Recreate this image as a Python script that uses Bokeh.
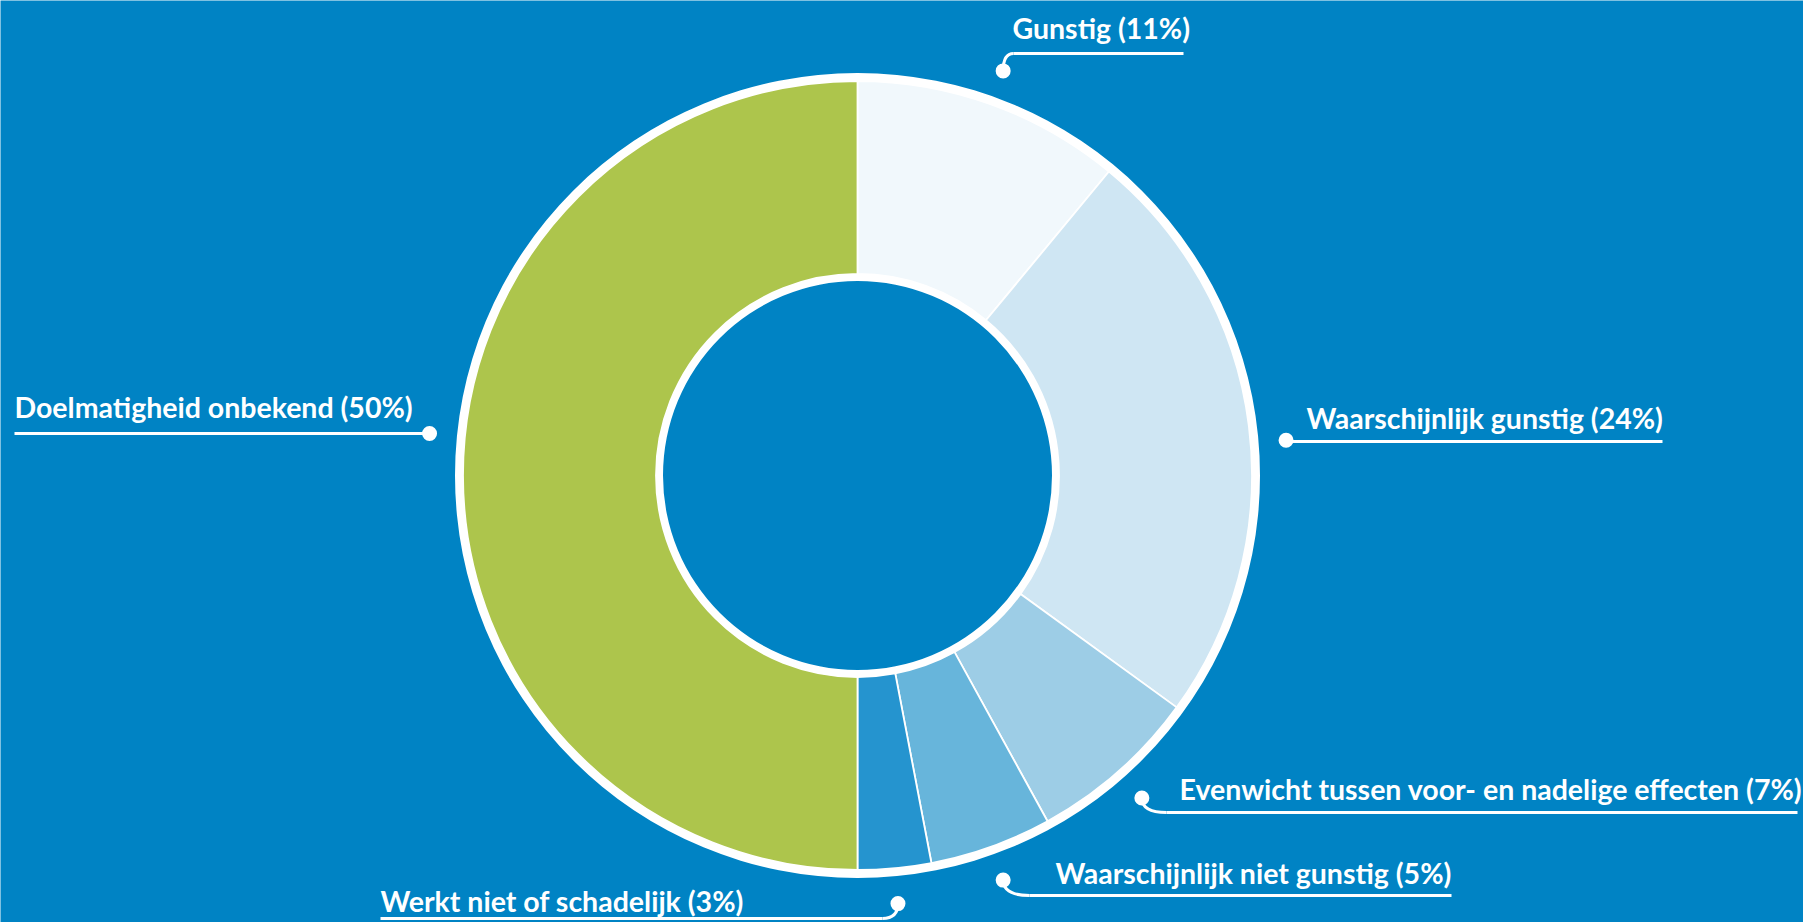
import numpy as np
from bokeh.plotting import figure
from bokeh.models import ColumnDataSource, Range1d
from bokeh.core.properties import value
from bokeh.embed import file_html
from bokeh.resources import INLINE

# ---- data ----
categories = ["Gunstig", "Waarschijnlijk gunstig", "Evenwicht tussen voor-  en nadelige effecten",
              "Waarschijnlijk niet gunstig", "Werkt niet of schadelijk", "Doelmatigheid onbekend"]
percentages = [11, 24, 7, 5, 3, 50]
slice_colors = ["#F1F8FC", "#CFE6F3", "#9DCDE6", "#67B5DB", "#2594CF", "#ADC54C"]

# ---- layout (reference pixel coords, y from top) ----
BG = "#0083C4"
W, H = 1803, 922
cx_ref, cy_ref = 857, 475
r_hole, r_in, r_out, r_ring = 194.5, 201.5, 394.5, 402.5
r_dot = 430
dot_angle_nudge = [0, 2.5, 0, 0, 0, 5.6]          # degrees
line_y_ref = [53, 441, 812, 895, 918, 433]
line_join_x_ref = [1013, None, 1166, 1029, 882, None]
line_far_x_ref = [1183, 1662, 1797, 1451, 380, 14]
text_x_ref = [1012, 1306, 1179, 1055, 380, 14]
text_base_ref = [27, 417, 788, 872, 900, 406]
FONT = "Lato"
FSIZE = "28.5px"


def X(x):
    return x


def Y(y):
    return H - y


p = figure(width=W, height=H, x_range=Range1d(0, W), y_range=Range1d(0, H),
           output_backend="svg", toolbar_location=None, min_border=0)
p.axis.visible = False
p.grid.visible = False
p.outline_line_color = None
p.background_fill_color = BG
p.border_fill_color = BG

cx, cy = X(cx_ref), Y(cy_ref)
frac = np.array(percentages, dtype=float) / sum(percentages)
c1 = np.cumsum(frac)
c0 = c1 - frac
start = np.pi / 2 - c1 * 2 * np.pi
end = np.pi / 2 - c0 * 2 * np.pi

# white ring behind
p.annulus(x=[cx], y=[cy], inner_radius=r_hole, outer_radius=r_ring,
          inner_radius_units="screen", outer_radius_units="screen",
          fill_color="white", line_color=None)

src = ColumnDataSource(dict(x=[cx] * len(frac), y=[cy] * len(frac), start=start, end=end,
                            color=slice_colors))
p.annular_wedge(x="x", y="y", inner_radius=r_in, outer_radius=r_out,
                inner_radius_units="screen", outer_radius_units="screen",
                start_angle="start", end_angle="end", direction="anticlock",
                fill_color="color", line_color="white", line_width=1.8, source=src)

# leader dots
mid = (c0 + c1) / 2
theta = mid * 2 * np.pi + np.deg2rad(dot_angle_nudge)
dx = cx + r_dot * np.sin(theta)
dy = cy + r_dot * np.cos(theta)
p.scatter(dx, dy, size=15, color="white", line_color=None)

# leader lines
for i in range(len(categories)):
    ly = Y(line_y_ref[i])
    if line_join_x_ref[i] is None:
        p.line([dx[i], X(line_far_x_ref[i])], [ly, ly], line_color="white", line_width=3)
    else:
        jx = X(line_join_x_ref[i])
        p.quadratic(x0=[dx[i]], y0=[dy[i]], x1=[jx], y1=[ly], cx=[dx[i]], cy=[ly],
                    line_color="white", line_width=3)
        p.line([jx, X(line_far_x_ref[i])], [ly, ly], line_color="white", line_width=3)

labels = [f"{c} ({v}%)" for c, v in zip(categories, percentages)]
p.text(x=[X(v) for v in text_x_ref], y=[Y(v) for v in text_base_ref], text=labels,
       text_color="white", text_font=value(FONT), text_font_size=FSIZE,
       text_font_style="bold", text_baseline="alphabetic", text_align="left")

open("out.html", "w").write(file_html(p, INLINE))
